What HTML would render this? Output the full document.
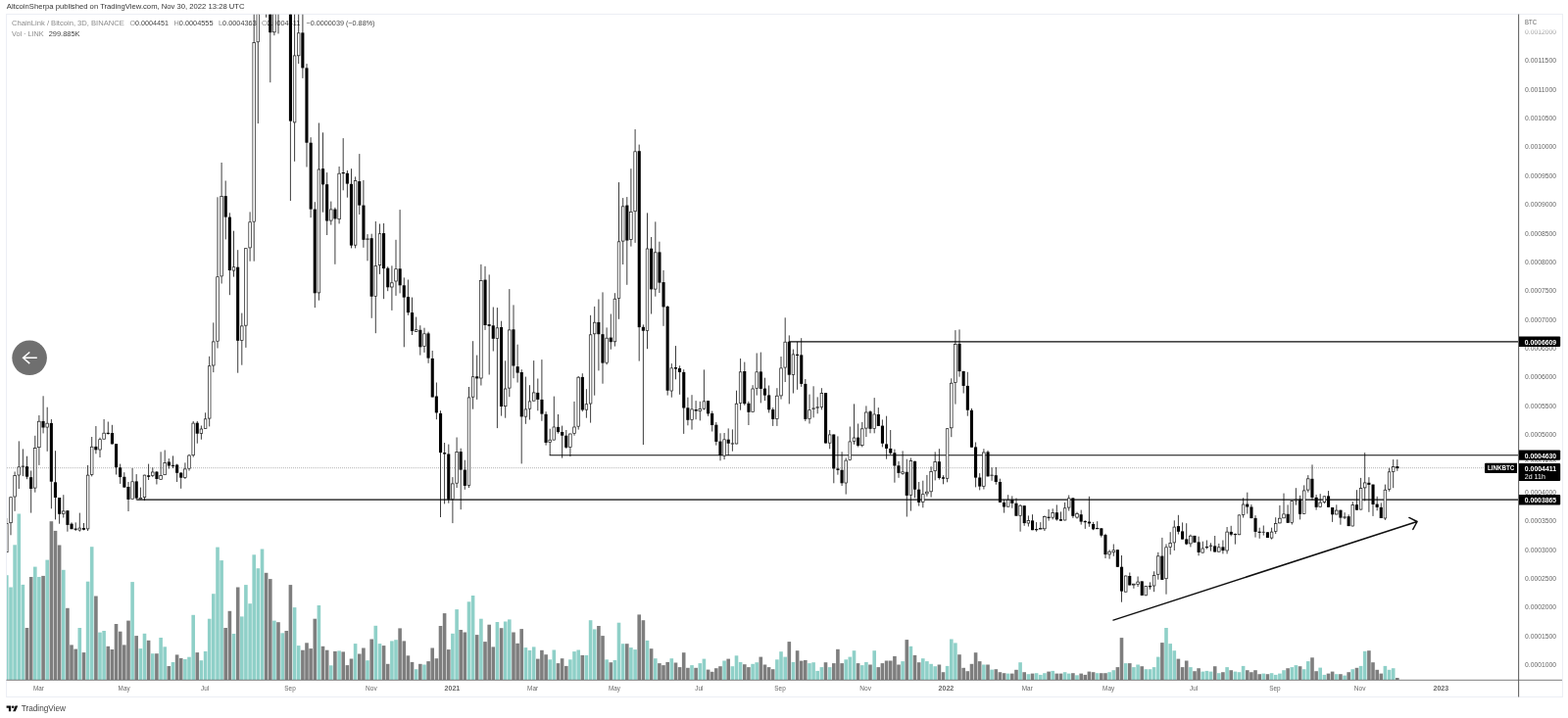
<!DOCTYPE html>
<html><head><meta charset="utf-8"><title>LINKBTC chart</title>
<style>
html,body{margin:0;padding:0;background:#fff;}
body{width:1600px;height:733px;position:relative;overflow:hidden;font-family:"Liberation Sans",sans-serif;}
#frame{position:absolute;left:6px;top:14px;width:1587px;height:696px;border:1px solid #eceef4;box-sizing:content-box;}
svg{position:absolute;left:0;top:0;}
.ax{font-size:7px;fill:#666;font-family:"Liberation Sans",sans-serif;}
.lb{font-size:7.1px;fill:#fff;font-weight:bold;font-family:"Liberation Sans",sans-serif;}
.mo{font-size:7px;fill:#666;font-family:"Liberation Sans",sans-serif;text-anchor:middle;}
</style></head><body>
<div id="frame"></div>
<svg width="1600" height="733" viewBox="0 0 1600 733">
<defs><clipPath id="cp"><rect x="7" y="14.8" width="1542.5" height="680"/></clipPath></defs>
<g font-family="'Liberation Sans', sans-serif"><g font-size="7.5" fill="#8c8c8c">
<text x="12" y="26.4" textLength="114.8" lengthAdjust="spacingAndGlyphs">ChainLink / Bitcoin, 3D, BINANCE</text>
<text x="132.5" y="26.4" textLength="39.5" lengthAdjust="spacingAndGlyphs">O<tspan fill="#444">0.0004451</tspan></text>
<text x="177.5" y="26.4" textLength="40" lengthAdjust="spacingAndGlyphs">H<tspan fill="#444">0.0004555</tspan></text>
<text x="223" y="26.4" textLength="38.8" lengthAdjust="spacingAndGlyphs">L<tspan fill="#444">0.0004363</tspan></text>
<text x="267" y="26.4" textLength="39.3" lengthAdjust="spacingAndGlyphs">C<tspan fill="#444">0.0004411</tspan></text>
<text x="312.5" y="26.4" fill="#444" textLength="70" lengthAdjust="spacingAndGlyphs">−0.0000039 (−0.88%)</text>
<text x="12" y="37.4" textLength="32.7" lengthAdjust="spacingAndGlyphs">Vol · LINK</text>
<text x="49.7" y="37.4" fill="#444" textLength="31.8" lengthAdjust="spacingAndGlyphs">299.885K</text>
</g></g>
<g clip-path="url(#cp)">
<g><rect x="5" y="587.2" width="3.6" height="106.8" fill="#8fd0c8"/><rect x="9.2" y="599.5" width="3.6" height="94.5" fill="#8fd0c8"/><rect x="13.3" y="556.3" width="3.6" height="137.7" fill="#8fd0c8"/><rect x="17.5" y="524.5" width="3.6" height="169.5" fill="#8fd0c8"/><rect x="21.6" y="596.9" width="3.6" height="97.1" fill="#8fd0c8"/><rect x="25.7" y="641" width="3.6" height="53" fill="#7e7e7e"/><rect x="29.9" y="589" width="3.6" height="105" fill="#7e7e7e"/><rect x="34" y="578.6" width="3.6" height="115.4" fill="#8fd0c8"/><rect x="38.1" y="589" width="3.6" height="105" fill="#8fd0c8"/><rect x="42.3" y="587.9" width="3.6" height="106.1" fill="#7e7e7e"/><rect x="46.4" y="571.6" width="3.6" height="122.4" fill="#8fd0c8"/><rect x="50.6" y="532.2" width="3.6" height="161.8" fill="#7e7e7e"/><rect x="54.7" y="541.9" width="3.6" height="152.1" fill="#7e7e7e"/><rect x="58.8" y="556.5" width="3.6" height="137.5" fill="#7e7e7e"/><rect x="63" y="581.8" width="3.6" height="112.2" fill="#8fd0c8"/><rect x="67.1" y="620.8" width="3.6" height="73.2" fill="#7e7e7e"/><rect x="71.2" y="658.4" width="3.6" height="35.6" fill="#7e7e7e"/><rect x="75.4" y="662.6" width="3.6" height="31.4" fill="#7e7e7e"/><rect x="79.5" y="641" width="3.6" height="53" fill="#8fd0c8"/><rect x="83.7" y="666.1" width="3.6" height="27.9" fill="#7e7e7e"/><rect x="87.8" y="593.7" width="3.6" height="100.3" fill="#8fd0c8"/><rect x="91.9" y="558.2" width="3.6" height="135.8" fill="#8fd0c8"/><rect x="96.1" y="608.5" width="3.6" height="85.5" fill="#7e7e7e"/><rect x="100.2" y="645.6" width="3.6" height="48.4" fill="#8fd0c8"/><rect x="104.3" y="644" width="3.6" height="50" fill="#8fd0c8"/><rect x="108.5" y="659.8" width="3.6" height="34.2" fill="#7e7e7e"/><rect x="112.6" y="663" width="3.6" height="31" fill="#7e7e7e"/><rect x="116.7" y="637" width="3.6" height="57" fill="#7e7e7e"/><rect x="120.9" y="644.7" width="3.6" height="49.3" fill="#7e7e7e"/><rect x="125" y="658.4" width="3.6" height="35.6" fill="#7e7e7e"/><rect x="129.2" y="633.6" width="3.6" height="60.4" fill="#7e7e7e"/><rect x="133.3" y="594.1" width="3.6" height="99.9" fill="#8fd0c8"/><rect x="137.4" y="649.1" width="3.6" height="44.9" fill="#7e7e7e"/><rect x="141.6" y="662.1" width="3.6" height="31.9" fill="#8fd0c8"/><rect x="145.7" y="646.8" width="3.6" height="47.2" fill="#8fd0c8"/><rect x="149.8" y="653.8" width="3.6" height="40.2" fill="#7e7e7e"/><rect x="154" y="667.2" width="3.6" height="26.8" fill="#8fd0c8"/><rect x="158.1" y="667.2" width="3.6" height="26.8" fill="#7e7e7e"/><rect x="162.3" y="651" width="3.6" height="43" fill="#8fd0c8"/><rect x="166.4" y="660.3" width="3.6" height="33.7" fill="#8fd0c8"/><rect x="170.5" y="680" width="3.6" height="14" fill="#7e7e7e"/><rect x="174.7" y="676" width="3.6" height="18" fill="#8fd0c8"/><rect x="178.8" y="668.4" width="3.6" height="25.6" fill="#7e7e7e"/><rect x="182.9" y="671.9" width="3.6" height="22.1" fill="#7e7e7e"/><rect x="187.1" y="673" width="3.6" height="21" fill="#8fd0c8"/><rect x="191.2" y="670.7" width="3.6" height="23.3" fill="#8fd0c8"/><rect x="195.4" y="627.8" width="3.6" height="66.2" fill="#8fd0c8"/><rect x="199.5" y="666.1" width="3.6" height="27.9" fill="#7e7e7e"/><rect x="203.6" y="674.2" width="3.6" height="19.8" fill="#8fd0c8"/><rect x="207.8" y="664.9" width="3.6" height="29.1" fill="#8fd0c8"/><rect x="211.9" y="631.7" width="3.6" height="62.3" fill="#8fd0c8"/><rect x="216" y="606.2" width="3.6" height="87.8" fill="#8fd0c8"/><rect x="220.2" y="558.6" width="3.6" height="135.4" fill="#8fd0c8"/><rect x="224.3" y="572.1" width="3.6" height="121.9" fill="#8fd0c8"/><rect x="228.4" y="641" width="3.6" height="53" fill="#7e7e7e"/><rect x="232.6" y="623.8" width="3.6" height="70.2" fill="#7e7e7e"/><rect x="236.7" y="647" width="3.6" height="47" fill="#8fd0c8"/><rect x="240.9" y="599.5" width="3.6" height="94.5" fill="#7e7e7e"/><rect x="245" y="629.4" width="3.6" height="64.6" fill="#8fd0c8"/><rect x="249.1" y="597.1" width="3.6" height="96.9" fill="#8fd0c8"/><rect x="253.3" y="616.2" width="3.6" height="77.8" fill="#8fd0c8"/><rect x="257.4" y="566.3" width="3.6" height="127.7" fill="#8fd0c8"/><rect x="261.5" y="580.2" width="3.6" height="113.8" fill="#8fd0c8"/><rect x="265.7" y="560.5" width="3.6" height="133.5" fill="#8fd0c8"/><rect x="269.8" y="584.8" width="3.6" height="109.2" fill="#7e7e7e"/><rect x="274" y="591.1" width="3.6" height="102.9" fill="#7e7e7e"/><rect x="278.1" y="633.6" width="3.6" height="60.4" fill="#8fd0c8"/><rect x="282.2" y="635.2" width="3.6" height="58.8" fill="#7e7e7e"/><rect x="286.4" y="646.3" width="3.6" height="47.7" fill="#8fd0c8"/><rect x="290.5" y="644" width="3.6" height="50" fill="#7e7e7e"/><rect x="294.6" y="597.1" width="3.6" height="96.9" fill="#7e7e7e"/><rect x="298.8" y="620.1" width="3.6" height="73.9" fill="#8fd0c8"/><rect x="302.9" y="659.1" width="3.6" height="34.9" fill="#8fd0c8"/><rect x="307.1" y="663.7" width="3.6" height="30.3" fill="#7e7e7e"/><rect x="311.2" y="656.3" width="3.6" height="37.7" fill="#7e7e7e"/><rect x="315.3" y="662.1" width="3.6" height="31.9" fill="#7e7e7e"/><rect x="319.5" y="631.7" width="3.6" height="62.3" fill="#7e7e7e"/><rect x="323.6" y="618" width="3.6" height="76" fill="#8fd0c8"/><rect x="327.7" y="659.8" width="3.6" height="34.2" fill="#7e7e7e"/><rect x="331.9" y="663.7" width="3.6" height="30.3" fill="#7e7e7e"/><rect x="336" y="679.3" width="3.6" height="14.7" fill="#8fd0c8"/><rect x="340.1" y="664.9" width="3.6" height="29.1" fill="#7e7e7e"/><rect x="344.3" y="664.4" width="3.6" height="29.6" fill="#8fd0c8"/><rect x="348.4" y="665.4" width="3.6" height="28.6" fill="#7e7e7e"/><rect x="352.6" y="679.1" width="3.6" height="14.9" fill="#7e7e7e"/><rect x="356.7" y="672.5" width="3.6" height="21.5" fill="#7e7e7e"/><rect x="360.8" y="657.1" width="3.6" height="36.9" fill="#8fd0c8"/><rect x="365" y="667.5" width="3.6" height="26.5" fill="#7e7e7e"/><rect x="369.1" y="661.5" width="3.6" height="32.5" fill="#7e7e7e"/><rect x="373.2" y="674.2" width="3.6" height="19.8" fill="#8fd0c8"/><rect x="377.4" y="652.5" width="3.6" height="41.5" fill="#7e7e7e"/><rect x="381.5" y="638.8" width="3.6" height="55.2" fill="#8fd0c8"/><rect x="385.7" y="657.1" width="3.6" height="36.9" fill="#8fd0c8"/><rect x="389.8" y="659.1" width="3.6" height="34.9" fill="#7e7e7e"/><rect x="393.9" y="677.8" width="3.6" height="16.2" fill="#7e7e7e"/><rect x="398.1" y="654.4" width="3.6" height="39.6" fill="#8fd0c8"/><rect x="402.2" y="653.2" width="3.6" height="40.8" fill="#8fd0c8"/><rect x="406.3" y="641.4" width="3.6" height="52.6" fill="#7e7e7e"/><rect x="410.5" y="654.4" width="3.6" height="39.6" fill="#7e7e7e"/><rect x="414.6" y="669.3" width="3.6" height="24.7" fill="#7e7e7e"/><rect x="418.7" y="675.9" width="3.6" height="18.1" fill="#7e7e7e"/><rect x="422.9" y="683.2" width="3.6" height="10.8" fill="#8fd0c8"/><rect x="427" y="677.8" width="3.6" height="16.2" fill="#7e7e7e"/><rect x="431.2" y="678.5" width="3.6" height="15.5" fill="#8fd0c8"/><rect x="435.3" y="675.1" width="3.6" height="18.9" fill="#7e7e7e"/><rect x="439.4" y="661.5" width="3.6" height="32.5" fill="#7e7e7e"/><rect x="443.6" y="672.2" width="3.6" height="21.8" fill="#7e7e7e"/><rect x="447.7" y="639" width="3.6" height="55" fill="#7e7e7e"/><rect x="451.8" y="626.1" width="3.6" height="67.9" fill="#7e7e7e"/><rect x="456" y="663.1" width="3.6" height="30.9" fill="#7e7e7e"/><rect x="460.1" y="646.8" width="3.6" height="47.2" fill="#8fd0c8"/><rect x="464.3" y="622.1" width="3.6" height="71.9" fill="#8fd0c8"/><rect x="468.4" y="643" width="3.6" height="51" fill="#7e7e7e"/><rect x="472.5" y="645.5" width="3.6" height="48.5" fill="#7e7e7e"/><rect x="476.7" y="614.3" width="3.6" height="79.7" fill="#8fd0c8"/><rect x="480.8" y="608" width="3.6" height="86" fill="#8fd0c8"/><rect x="484.9" y="648.1" width="3.6" height="45.9" fill="#7e7e7e"/><rect x="489.1" y="631.7" width="3.6" height="62.3" fill="#8fd0c8"/><rect x="493.2" y="655.1" width="3.6" height="38.9" fill="#7e7e7e"/><rect x="497.4" y="637.7" width="3.6" height="56.3" fill="#7e7e7e"/><rect x="501.5" y="660.4" width="3.6" height="33.6" fill="#7e7e7e"/><rect x="505.6" y="635" width="3.6" height="59" fill="#8fd0c8"/><rect x="509.8" y="641.2" width="3.6" height="52.8" fill="#7e7e7e"/><rect x="513.9" y="634.5" width="3.6" height="59.5" fill="#8fd0c8"/><rect x="518" y="632.4" width="3.6" height="61.6" fill="#8fd0c8"/><rect x="522.2" y="645.5" width="3.6" height="48.5" fill="#7e7e7e"/><rect x="526.3" y="656.8" width="3.6" height="37.2" fill="#7e7e7e"/><rect x="530.4" y="642.1" width="3.6" height="51.9" fill="#7e7e7e"/><rect x="534.6" y="661.1" width="3.6" height="32.9" fill="#8fd0c8"/><rect x="538.7" y="663.9" width="3.6" height="30.1" fill="#8fd0c8"/><rect x="542.9" y="660.4" width="3.6" height="33.6" fill="#8fd0c8"/><rect x="547" y="672.6" width="3.6" height="21.4" fill="#7e7e7e"/><rect x="551.1" y="663.8" width="3.6" height="30.2" fill="#7e7e7e"/><rect x="555.3" y="668.2" width="3.6" height="25.8" fill="#7e7e7e"/><rect x="559.4" y="673.3" width="3.6" height="20.7" fill="#8fd0c8"/><rect x="563.5" y="663.5" width="3.6" height="30.5" fill="#8fd0c8"/><rect x="567.7" y="677.1" width="3.6" height="16.9" fill="#7e7e7e"/><rect x="571.8" y="672.2" width="3.6" height="21.8" fill="#7e7e7e"/><rect x="576" y="679.9" width="3.6" height="14.1" fill="#7e7e7e"/><rect x="580.1" y="673.3" width="3.6" height="20.7" fill="#8fd0c8"/><rect x="584.2" y="665.1" width="3.6" height="28.9" fill="#8fd0c8"/><rect x="588.4" y="663.5" width="3.6" height="30.5" fill="#8fd0c8"/><rect x="592.5" y="668.9" width="3.6" height="25.1" fill="#7e7e7e"/><rect x="596.6" y="668.9" width="3.6" height="25.1" fill="#8fd0c8"/><rect x="600.8" y="633.2" width="3.6" height="60.8" fill="#8fd0c8"/><rect x="604.9" y="642.4" width="3.6" height="51.6" fill="#8fd0c8"/><rect x="609.1" y="639" width="3.6" height="55" fill="#7e7e7e"/><rect x="613.2" y="649.1" width="3.6" height="44.9" fill="#7e7e7e"/><rect x="617.3" y="673.3" width="3.6" height="20.7" fill="#8fd0c8"/><rect x="621.5" y="676.2" width="3.6" height="17.8" fill="#7e7e7e"/><rect x="625.6" y="673.9" width="3.6" height="20.1" fill="#8fd0c8"/><rect x="629.7" y="635.7" width="3.6" height="58.3" fill="#8fd0c8"/><rect x="633.9" y="657.2" width="3.6" height="36.8" fill="#8fd0c8"/><rect x="638" y="657.2" width="3.6" height="36.8" fill="#7e7e7e"/><rect x="642.1" y="661.1" width="3.6" height="32.9" fill="#8fd0c8"/><rect x="646.3" y="663.1" width="3.6" height="30.9" fill="#8fd0c8"/><rect x="650.4" y="627.4" width="3.6" height="66.6" fill="#7e7e7e"/><rect x="654.6" y="633.2" width="3.6" height="60.8" fill="#7e7e7e"/><rect x="658.7" y="653.9" width="3.6" height="40.1" fill="#8fd0c8"/><rect x="662.8" y="662.2" width="3.6" height="31.8" fill="#7e7e7e"/><rect x="667" y="672.2" width="3.6" height="21.8" fill="#8fd0c8"/><rect x="671.1" y="677.1" width="3.6" height="16.9" fill="#7e7e7e"/><rect x="675.2" y="679.1" width="3.6" height="14.9" fill="#7e7e7e"/><rect x="679.4" y="675.9" width="3.6" height="18.1" fill="#7e7e7e"/><rect x="683.5" y="672.2" width="3.6" height="21.8" fill="#8fd0c8"/><rect x="687.7" y="676.5" width="3.6" height="17.5" fill="#7e7e7e"/><rect x="691.8" y="681.1" width="3.6" height="12.9" fill="#7e7e7e"/><rect x="695.9" y="666.2" width="3.6" height="27.8" fill="#7e7e7e"/><rect x="700.1" y="681.8" width="3.6" height="12.2" fill="#7e7e7e"/><rect x="704.2" y="679.1" width="3.6" height="14.9" fill="#8fd0c8"/><rect x="708.3" y="681.8" width="3.6" height="12.2" fill="#7e7e7e"/><rect x="712.5" y="677.1" width="3.6" height="16.9" fill="#8fd0c8"/><rect x="716.6" y="672.6" width="3.6" height="21.4" fill="#8fd0c8"/><rect x="720.8" y="683.6" width="3.6" height="10.4" fill="#7e7e7e"/><rect x="724.9" y="685.8" width="3.6" height="8.2" fill="#7e7e7e"/><rect x="729" y="682.2" width="3.6" height="11.8" fill="#7e7e7e"/><rect x="733.2" y="680.2" width="3.6" height="13.8" fill="#7e7e7e"/><rect x="737.3" y="674.5" width="3.6" height="19.5" fill="#8fd0c8"/><rect x="741.4" y="672.6" width="3.6" height="21.4" fill="#7e7e7e"/><rect x="745.6" y="680.2" width="3.6" height="13.8" fill="#8fd0c8"/><rect x="749.7" y="669.3" width="3.6" height="24.7" fill="#8fd0c8"/><rect x="753.8" y="675.9" width="3.6" height="18.1" fill="#8fd0c8"/><rect x="758" y="678.2" width="3.6" height="15.8" fill="#7e7e7e"/><rect x="762.1" y="681.1" width="3.6" height="12.9" fill="#7e7e7e"/><rect x="766.3" y="677.8" width="3.6" height="16.2" fill="#8fd0c8"/><rect x="770.4" y="676.2" width="3.6" height="17.8" fill="#8fd0c8"/><rect x="774.5" y="670.6" width="3.6" height="23.4" fill="#7e7e7e"/><rect x="778.7" y="678.5" width="3.6" height="15.5" fill="#7e7e7e"/><rect x="782.8" y="681.1" width="3.6" height="12.9" fill="#7e7e7e"/><rect x="786.9" y="683.2" width="3.6" height="10.8" fill="#7e7e7e"/><rect x="791.1" y="673.3" width="3.6" height="20.7" fill="#8fd0c8"/><rect x="795.2" y="665.2" width="3.6" height="28.8" fill="#8fd0c8"/><rect x="799.4" y="670.6" width="3.6" height="23.4" fill="#8fd0c8"/><rect x="803.5" y="655.1" width="3.6" height="38.9" fill="#7e7e7e"/><rect x="807.6" y="675.9" width="3.6" height="18.1" fill="#8fd0c8"/><rect x="811.8" y="664.2" width="3.6" height="29.8" fill="#7e7e7e"/><rect x="815.9" y="674.6" width="3.6" height="19.4" fill="#7e7e7e"/><rect x="820" y="673.9" width="3.6" height="20.1" fill="#7e7e7e"/><rect x="824.2" y="677.1" width="3.6" height="16.9" fill="#8fd0c8"/><rect x="828.3" y="676.2" width="3.6" height="17.8" fill="#8fd0c8"/><rect x="832.4" y="684.9" width="3.6" height="9.1" fill="#8fd0c8"/><rect x="836.6" y="681.1" width="3.6" height="12.9" fill="#8fd0c8"/><rect x="840.7" y="676.2" width="3.6" height="17.8" fill="#7e7e7e"/><rect x="844.9" y="681.1" width="3.6" height="12.9" fill="#8fd0c8"/><rect x="849" y="677.1" width="3.6" height="16.9" fill="#7e7e7e"/><rect x="853.1" y="662.8" width="3.6" height="31.2" fill="#7e7e7e"/><rect x="857.3" y="677.1" width="3.6" height="16.9" fill="#7e7e7e"/><rect x="861.4" y="673.3" width="3.6" height="20.7" fill="#8fd0c8"/><rect x="865.5" y="670.6" width="3.6" height="23.4" fill="#8fd0c8"/><rect x="869.7" y="664.2" width="3.6" height="29.8" fill="#8fd0c8"/><rect x="873.8" y="677.1" width="3.6" height="16.9" fill="#7e7e7e"/><rect x="878" y="679.1" width="3.6" height="14.9" fill="#8fd0c8"/><rect x="882.1" y="675.9" width="3.6" height="18.1" fill="#8fd0c8"/><rect x="886.2" y="678.5" width="3.6" height="15.5" fill="#7e7e7e"/><rect x="890.4" y="664.2" width="3.6" height="29.8" fill="#8fd0c8"/><rect x="894.5" y="681.1" width="3.6" height="12.9" fill="#7e7e7e"/><rect x="898.6" y="677.1" width="3.6" height="16.9" fill="#7e7e7e"/><rect x="902.8" y="674.5" width="3.6" height="19.5" fill="#7e7e7e"/><rect x="906.9" y="674.5" width="3.6" height="19.5" fill="#7e7e7e"/><rect x="911.1" y="669.9" width="3.6" height="24.1" fill="#7e7e7e"/><rect x="915.2" y="678.5" width="3.6" height="15.5" fill="#7e7e7e"/><rect x="919.3" y="675.1" width="3.6" height="18.9" fill="#8fd0c8"/><rect x="923.5" y="653.1" width="3.6" height="40.9" fill="#7e7e7e"/><rect x="927.6" y="659.8" width="3.6" height="34.2" fill="#8fd0c8"/><rect x="931.7" y="668.9" width="3.6" height="25.1" fill="#7e7e7e"/><rect x="935.9" y="676.2" width="3.6" height="17.8" fill="#7e7e7e"/><rect x="940" y="672.2" width="3.6" height="21.8" fill="#8fd0c8"/><rect x="944.1" y="675.1" width="3.6" height="18.9" fill="#8fd0c8"/><rect x="948.3" y="677.8" width="3.6" height="16.2" fill="#8fd0c8"/><rect x="952.4" y="680.2" width="3.6" height="13.8" fill="#8fd0c8"/><rect x="956.6" y="678.5" width="3.6" height="15.5" fill="#7e7e7e"/><rect x="960.7" y="686.2" width="3.6" height="7.8" fill="#7e7e7e"/><rect x="964.8" y="679.9" width="3.6" height="14.1" fill="#8fd0c8"/><rect x="969" y="652.5" width="3.6" height="41.5" fill="#8fd0c8"/><rect x="973.1" y="656.4" width="3.6" height="37.6" fill="#8fd0c8"/><rect x="977.2" y="668.2" width="3.6" height="25.8" fill="#7e7e7e"/><rect x="981.4" y="681.8" width="3.6" height="12.2" fill="#7e7e7e"/><rect x="985.5" y="685.2" width="3.6" height="8.8" fill="#7e7e7e"/><rect x="989.7" y="677.8" width="3.6" height="16.2" fill="#7e7e7e"/><rect x="993.8" y="666.2" width="3.6" height="27.8" fill="#7e7e7e"/><rect x="997.9" y="675.1" width="3.6" height="18.9" fill="#7e7e7e"/><rect x="1002.1" y="678.5" width="3.6" height="15.5" fill="#8fd0c8"/><rect x="1006.2" y="678.5" width="3.6" height="15.5" fill="#7e7e7e"/><rect x="1010.3" y="683.6" width="3.6" height="10.4" fill="#8fd0c8"/><rect x="1014.5" y="683.2" width="3.6" height="10.8" fill="#7e7e7e"/><rect x="1018.6" y="686.2" width="3.6" height="7.8" fill="#7e7e7e"/><rect x="1022.8" y="687.2" width="3.6" height="6.8" fill="#7e7e7e"/><rect x="1026.9" y="687.6" width="3.6" height="6.4" fill="#8fd0c8"/><rect x="1031" y="687.6" width="3.6" height="6.4" fill="#7e7e7e"/><rect x="1035.2" y="683.8" width="3.6" height="10.2" fill="#7e7e7e"/><rect x="1039.3" y="676.2" width="3.6" height="17.8" fill="#8fd0c8"/><rect x="1043.4" y="686.2" width="3.6" height="7.8" fill="#7e7e7e"/><rect x="1047.6" y="688.2" width="3.6" height="5.8" fill="#8fd0c8"/><rect x="1051.7" y="687.6" width="3.6" height="6.4" fill="#7e7e7e"/><rect x="1055.8" y="687.2" width="3.6" height="6.8" fill="#8fd0c8"/><rect x="1060" y="688.9" width="3.6" height="5.1" fill="#8fd0c8"/><rect x="1064.1" y="687.2" width="3.6" height="6.8" fill="#8fd0c8"/><rect x="1068.3" y="685.6" width="3.6" height="8.4" fill="#7e7e7e"/><rect x="1072.4" y="684.9" width="3.6" height="9.1" fill="#8fd0c8"/><rect x="1076.5" y="687.6" width="3.6" height="6.4" fill="#7e7e7e"/><rect x="1080.7" y="687.6" width="3.6" height="6.4" fill="#7e7e7e"/><rect x="1084.8" y="686.2" width="3.6" height="7.8" fill="#8fd0c8"/><rect x="1088.9" y="687.6" width="3.6" height="6.4" fill="#8fd0c8"/><rect x="1093.1" y="687.2" width="3.6" height="6.8" fill="#7e7e7e"/><rect x="1097.2" y="689.3" width="3.6" height="4.7" fill="#8fd0c8"/><rect x="1101.4" y="687.6" width="3.6" height="6.4" fill="#7e7e7e"/><rect x="1105.5" y="688.9" width="3.6" height="5.1" fill="#7e7e7e"/><rect x="1109.6" y="685.6" width="3.6" height="8.4" fill="#7e7e7e"/><rect x="1113.8" y="686.2" width="3.6" height="7.8" fill="#7e7e7e"/><rect x="1117.9" y="687.2" width="3.6" height="6.8" fill="#8fd0c8"/><rect x="1122" y="687.2" width="3.6" height="6.8" fill="#7e7e7e"/><rect x="1126.2" y="687.2" width="3.6" height="6.8" fill="#7e7e7e"/><rect x="1130.3" y="686.2" width="3.6" height="7.8" fill="#8fd0c8"/><rect x="1134.5" y="684.2" width="3.6" height="9.8" fill="#8fd0c8"/><rect x="1138.6" y="681.1" width="3.6" height="12.9" fill="#7e7e7e"/><rect x="1142.7" y="651.1" width="3.6" height="42.9" fill="#7e7e7e"/><rect x="1146.9" y="677.1" width="3.6" height="16.9" fill="#8fd0c8"/><rect x="1151" y="677.1" width="3.6" height="16.9" fill="#7e7e7e"/><rect x="1155.1" y="681.1" width="3.6" height="12.9" fill="#8fd0c8"/><rect x="1159.3" y="678.5" width="3.6" height="15.5" fill="#8fd0c8"/><rect x="1163.4" y="680.2" width="3.6" height="13.8" fill="#7e7e7e"/><rect x="1167.5" y="683.2" width="3.6" height="10.8" fill="#8fd0c8"/><rect x="1171.7" y="683.2" width="3.6" height="10.8" fill="#8fd0c8"/><rect x="1175.8" y="681.1" width="3.6" height="12.9" fill="#8fd0c8"/><rect x="1180" y="670.6" width="3.6" height="23.4" fill="#8fd0c8"/><rect x="1184.1" y="656.1" width="3.6" height="37.9" fill="#7e7e7e"/><rect x="1188.2" y="641" width="3.6" height="53" fill="#8fd0c8"/><rect x="1192.4" y="657.1" width="3.6" height="36.9" fill="#8fd0c8"/><rect x="1196.5" y="664.2" width="3.6" height="29.8" fill="#8fd0c8"/><rect x="1200.6" y="672.6" width="3.6" height="21.4" fill="#7e7e7e"/><rect x="1204.8" y="681.1" width="3.6" height="12.9" fill="#7e7e7e"/><rect x="1208.9" y="674.5" width="3.6" height="19.5" fill="#7e7e7e"/><rect x="1213.1" y="681.1" width="3.6" height="12.9" fill="#8fd0c8"/><rect x="1217.2" y="685.2" width="3.6" height="8.8" fill="#7e7e7e"/><rect x="1221.3" y="682.2" width="3.6" height="11.8" fill="#7e7e7e"/><rect x="1225.5" y="685.6" width="3.6" height="8.4" fill="#8fd0c8"/><rect x="1229.6" y="684.9" width="3.6" height="9.1" fill="#8fd0c8"/><rect x="1233.7" y="685.6" width="3.6" height="8.4" fill="#8fd0c8"/><rect x="1237.9" y="680.2" width="3.6" height="13.8" fill="#7e7e7e"/><rect x="1242" y="687.2" width="3.6" height="6.8" fill="#8fd0c8"/><rect x="1246.1" y="686.2" width="3.6" height="7.8" fill="#7e7e7e"/><rect x="1250.3" y="681.1" width="3.6" height="12.9" fill="#8fd0c8"/><rect x="1254.4" y="684.2" width="3.6" height="9.8" fill="#7e7e7e"/><rect x="1258.6" y="685.6" width="3.6" height="8.4" fill="#8fd0c8"/><rect x="1262.7" y="686.2" width="3.6" height="7.8" fill="#8fd0c8"/><rect x="1266.8" y="679.9" width="3.6" height="14.1" fill="#8fd0c8"/><rect x="1271" y="684.2" width="3.6" height="9.8" fill="#7e7e7e"/><rect x="1275.1" y="686.2" width="3.6" height="7.8" fill="#7e7e7e"/><rect x="1279.2" y="684.2" width="3.6" height="9.8" fill="#7e7e7e"/><rect x="1283.4" y="688.2" width="3.6" height="5.8" fill="#7e7e7e"/><rect x="1287.5" y="687.6" width="3.6" height="6.4" fill="#8fd0c8"/><rect x="1291.7" y="688.2" width="3.6" height="5.8" fill="#7e7e7e"/><rect x="1295.8" y="687.2" width="3.6" height="6.8" fill="#8fd0c8"/><rect x="1299.9" y="688.9" width="3.6" height="5.1" fill="#8fd0c8"/><rect x="1304.1" y="687.6" width="3.6" height="6.4" fill="#8fd0c8"/><rect x="1308.2" y="684.2" width="3.6" height="9.8" fill="#8fd0c8"/><rect x="1312.3" y="682.2" width="3.6" height="11.8" fill="#7e7e7e"/><rect x="1316.5" y="681.1" width="3.6" height="12.9" fill="#8fd0c8"/><rect x="1320.6" y="679.1" width="3.6" height="14.9" fill="#8fd0c8"/><rect x="1324.8" y="680.2" width="3.6" height="13.8" fill="#7e7e7e"/><rect x="1328.9" y="683.2" width="3.6" height="10.8" fill="#8fd0c8"/><rect x="1333" y="675.1" width="3.6" height="18.9" fill="#8fd0c8"/><rect x="1337.2" y="671.3" width="3.6" height="22.7" fill="#7e7e7e"/><rect x="1341.3" y="685.2" width="3.6" height="8.8" fill="#7e7e7e"/><rect x="1345.4" y="681.6" width="3.6" height="12.4" fill="#8fd0c8"/><rect x="1349.6" y="688.9" width="3.6" height="5.1" fill="#8fd0c8"/><rect x="1353.7" y="687.6" width="3.6" height="6.4" fill="#7e7e7e"/><rect x="1357.8" y="685.6" width="3.6" height="8.4" fill="#7e7e7e"/><rect x="1362" y="688.2" width="3.6" height="5.8" fill="#8fd0c8"/><rect x="1366.1" y="688.2" width="3.6" height="5.8" fill="#7e7e7e"/><rect x="1370.3" y="689.6" width="3.6" height="4.4" fill="#8fd0c8"/><rect x="1374.4" y="686.2" width="3.6" height="7.8" fill="#7e7e7e"/><rect x="1378.5" y="683.2" width="3.6" height="10.8" fill="#8fd0c8"/><rect x="1382.7" y="681.8" width="3.6" height="12.2" fill="#7e7e7e"/><rect x="1386.8" y="679.9" width="3.6" height="14.1" fill="#8fd0c8"/><rect x="1390.9" y="664.8" width="3.6" height="29.2" fill="#8fd0c8"/><rect x="1395.1" y="664.2" width="3.6" height="29.8" fill="#7e7e7e"/><rect x="1399.2" y="676.2" width="3.6" height="17.8" fill="#7e7e7e"/><rect x="1403.4" y="683.8" width="3.6" height="10.2" fill="#7e7e7e"/><rect x="1407.5" y="687.6" width="3.6" height="6.4" fill="#7e7e7e"/><rect x="1411.6" y="679.9" width="3.6" height="14.1" fill="#8fd0c8"/><rect x="1415.8" y="683.8" width="3.6" height="10.2" fill="#8fd0c8"/><rect x="1419.9" y="682.2" width="3.6" height="11.8" fill="#8fd0c8"/><rect x="1424" y="692" width="3.6" height="2" fill="#7e7e7e"/></g>
<path d="M804.8 348.85H1549M560.7 464.7H1549M139.5 510.05H1549" stroke="#0c0c0c" stroke-width="1.15" fill="none"/>
<path d="M7 477.7H1549" stroke="#777" stroke-width="0.7" stroke-dasharray="0.8 1.2" fill="none"/>
<path d="M6.8 529V564M11 507.3V546.3M15.1 481.5V521.8M19.3 450.4V499M23.4 458.4V486.1M27.5 465.7V489.2M31.7 480.5V523.6M35.8 444.8V502.7M39.9 424V474.9M44.1 404.3V442.4M48.2 415.7V460.8M52.4 428V519.3M56.5 460.2V530.4M60.6 508V534.7M64.8 505.2V528.5M68.9 521.2V542.7M73 533.4V540.2M77.2 533.4V542M81.3 523.6V542.7M85.5 534V541.4M89.6 474.9V542M93.7 446V486.4M97.9 435V463.3M102 446.7V467M106.1 428V448.5M110.3 430.5V443.6M114.4 433.8V453.4M118.5 453.1V484.5M122.7 473.6V493.9M126.8 482.2V497.6M131 492V522M135.1 477.9V509.6M139.2 484.1V510.5M143.4 497.6V509.9M147.5 484.7V511.1M151.6 473.6V490M155.8 477.3V487.1M159.9 481V494.5M164.1 461.3V489.6M168.2 459.5V485M172.3 468.1V478.5M176.5 465.4V477.9M180.6 473.6V492M184.7 482.2V498.8M188.9 472.4V489M193 463.8V480.6M197.2 429.9V466.6M201.3 429.9V452.7M205.4 434.5V448.7M209.6 421.3V437.7M213.7 363.8V435.4M217.8 329.4V380.1M222 201.3V355.5M226.1 166V289.5M230.2 184.5V244.4M234.4 217.3V301.2M238.5 235.7V282.6M242.7 255.2V380.7M246.8 319.6V372.7M250.9 253.3V354.9M255.1 216.4V266.7M259.2 0V266.7M263.3 -5V126.1M267.5 -25V5M271.6 -25V17.8M275.8 -20V84.2M279.9 -20V36.2M284 -25V34.4M288.2 -25V5M292.3 -25V5M296.4 -20V205M300.6 0V164.8M304.7 0V65.1M308.9 0V79.9M313 65.1V170.5M317.1 140.2V222.2M321.3 206.2V314.1M325.4 125.5V306.7M329.5 135.3V216.7M333.7 176.1V240M337.8 205.6V229.6M341.9 211.8V269.8M346.1 170V228.4M350.2 141.1V194.3M354.4 174V201.7M358.5 172.2V253.4M362.6 180.4V253.4M366.8 157.1V219M370.9 183.9V252.8M375 239.1V266.3M379.2 238.7V324.8M383.3 226V340.2M387.5 228.5V279.9M391.6 228V305.2M395.7 272.2V297.2M399.9 271.3V316.9M404 244.8V301.9M408.1 214.1V299.4M412.3 283.4V354.3M416.4 285.5V321.8M420.5 303.6V342M424.7 323.6V339M428.8 332.2V362.6M433 334.7V359.9M437.1 338.7V370.8M441.2 358V405.5M445.4 390.5V428.2M449.5 419.2V528M453.6 452V514.4M457.8 453.6V513.7M461.9 487.1V534.1M466.1 446.5V498M470.2 457.7V520.2M474.3 469.7V499.8M478.5 395V498M482.6 348.2V417.7M486.7 362.6V407.9M490.9 269.9V393.5M495 271.8V336.9M499.2 280.4V382.5M503.3 313.5V358.5M507.4 314.1V437.1M511.6 327.7V424.6M515.7 368.3V426.7M519.8 295.1V405.2M524 311.4V386.2M528.1 351.7V390.5M532.2 377.2V473.4M536.4 384.6V432.8M540.5 393.2V428.5M544.7 368.1V409.5M548.8 386.5V419.3M552.9 367.1V429.8M557.1 420.2V454.6M561.2 437.7V464.8M565.3 404.6V449.4M569.5 423V442.6M573.6 434.6V467.6M577.8 439V458M581.9 442.6V466M586 409.9V444.7M590.2 384V438.6M594.3 381.2V420.2M598.4 397.2V426.7M602.6 321.8V431.6M606.7 312.9V403.7M610.9 305.5V378.4M615 298.4V391.7M619.1 334.4V372.3M623.3 320.5V356.7M627.4 299.2V353.6M631.5 186.1V325.8M635.7 202.1V270M639.8 201.1V290.8M643.9 172.2V251.6M648.1 132V247.9M652.2 147.6V368.6M656.4 331.4V454M660.5 217.4V356.2M664.6 242V320.5M668.8 226.4V302.7M672.9 246.7V299M677 275.9V332.8M681.2 312V403.6M685.3 371.1V405.7M689.5 353.1V387.3M693.6 373.3V402.8M697.7 377.2V442.9M701.9 405.7V434.3M706 403.2V438.6M710.1 409.1V428.2M714.3 409.8V429.4M718.4 377.4V418.4M722.6 409.1V424.9M726.7 419.6V440.5M730.8 431V454.6M735 442.3V470.3M739.1 442V469.1M743.2 437.4V465M747.4 438.4V460.7M751.5 398.7V453.3M755.6 366V418.7M759.8 369.6V413.8M763.9 409.8V434M768.1 393.2V420.8M772.2 360.5V403.6M776.3 359.6V411.4M780.5 385.7V409.1M784.6 393.5V421.4M788.7 416.1V434.9M792.9 396.2V434.9M797 364V407.6M801.2 324.3V390M805.3 342.4V412.4M809.4 356.6V401.5M813.6 348.9V397.8M817.7 345.2V394.9M821.8 387V430M826 402.6V432.5M830.1 394.3V426.3M834.2 405.4V422.3M838.4 396.2V418.3M842.5 401.1V452.5M846.7 439V458.3M850.8 443.5V493.3M854.9 445.4V484.7M859.1 461.3V496M863.2 467.5V504.6M867.3 435.5V470.2M871.5 412.4V453.7M875.6 432.5V456.4M879.8 430.9V456.4M883.9 414.4V446M888 419V442.3M892.2 406.1V442.3M896.3 416.1V434.9M900.4 428.4V456.4M904.6 424.7V468.7M908.7 439V464M912.9 458.6V492.7M917 470.9V487.8M921.1 460.4V484.7M925.3 468.7V527.5M929.4 467.5V521.6M933.5 470.8V508.3M937.7 492V516.6M941.8 490.7V518.3M945.9 484.9V506.8M950.1 476.3V507.6M954.2 461.4V490.4M958.4 458.2V489.6M962.5 485.2V494.3M966.6 437.3V492.3M970.8 386.3V446.2M974.9 337.1V412.6M979 336.4V384.7M983.2 378.9V401.5M987.3 379.8V424.7M991.5 416.9V456.7M995.6 451.5V497.4M999.7 483.1V500.4M1003.9 458.2V499.5M1008 459.8V486.4M1012.1 477.3V490.8M1016.3 477V494.7M1020.4 488.7V512.9M1024.6 510.1V523.6M1028.7 505.2V517.5M1032.8 506.4V518.7M1037 508.5V526.7M1041.1 515V542.7M1045.2 516.2V536.8M1049.4 526.4V537.5M1053.5 525.2V541.2M1057.6 533.1V542.7M1061.8 533.1V540.4M1065.9 526.4V542M1070.1 519.9V531.6M1074.2 519.3V530.4M1078.3 515.4V531.6M1082.5 522.4V531.7M1086.6 512.9V531.3M1090.7 505.5V521.5M1094.9 508.4V528.9M1099 522.7V529.5M1103.2 520.6V535.6M1107.3 531.3V539.9M1111.4 506.8V537.8M1115.6 532.9V541.2M1119.7 532.2V540.1M1123.8 539.3V548.5M1128 544.8V570M1132.1 561.4V570.6M1136.3 555.5V567.8M1140.4 561.2V578.8M1144.5 567V614.7M1148.7 587.6V604.5M1152.8 584.5V597.5M1156.9 595.9V600.8M1161.1 588.5V599.1M1165.2 593.4V607.9M1169.3 598.3V608.2M1173.5 594.4V601.8M1177.6 583.3V604.2M1181.8 563.8V591.7M1185.9 548.9V591.9M1190 555.5V606.7M1194.2 543.2V566.3M1198.3 531.3V562M1202.4 525.8V545.5M1206.6 533.4V550.6M1210.7 534.2V556.3M1214.9 545.7V558.4M1219 546.9V553.8M1223.1 547.7V567.3M1227.3 552.7V564.5M1231.4 551.5V560.5M1235.5 554.3V562.6M1239.7 547V563.5M1243.8 554.9V563.5M1247.9 551.5V565.4M1252.1 538V565.4M1256.2 536.8V547.3M1260.4 544.5V555.6M1264.5 525.5V546.1M1268.6 508.3V528.5M1272.8 502.7V524.5M1276.9 515V529.1M1281 526.1V548.6M1285.2 538.7V549.8M1289.3 536.5V546.6M1293.5 543.3V549M1297.6 538.7V550.6M1301.7 528.2V545.1M1305.9 515.9V534.3M1310 503.6V529.1M1314.1 515.4V533.8M1318.3 511V535.5M1322.4 498.2V515.6M1326.6 505.8V530.4M1330.7 495.4V524.8M1334.8 485.1V502.6M1339 474.4V510.5M1343.1 505V520.6M1347.2 504.2V517.9M1351.4 506.4V514.1M1355.5 501.1V517.8M1359.6 518V532.9M1363.8 515.3V525.3M1367.9 520.7V535.7M1372.1 523.2V530M1376.2 525.3V537.1M1380.3 512.1V537.3M1384.5 500.2V520.7M1388.6 487.9V520.4M1392.7 462.1V511.5M1396.9 487.2V522.8M1401 494.6V526.9M1405.2 506.8V521.3M1409.3 513.4V529M1413.4 494.6V530.9M1417.6 477.7V501.7M1421.7 469.1V498.2M1425.8 469.1V480.8" stroke="#000" stroke-width="0.9" fill="none" opacity="0.85"/>
<g><rect x="5.5" y="534.4" width="2.6" height="29.3" fill="#fff" stroke="#1a1a1a" stroke-width="0.7"/><rect x="9.7" y="507.7" width="2.6" height="26" fill="#fff" stroke="#1a1a1a" stroke-width="0.7"/><rect x="13.8" y="485.6" width="2.6" height="21.4" fill="#fff" stroke="#1a1a1a" stroke-width="0.7"/><rect x="18" y="476.8" width="2.6" height="8.2" fill="#fff" stroke="#1a1a1a" stroke-width="0.7"/><rect x="22.1" y="476" width="2.6" height="0.5" fill="#fff" stroke="#1a1a1a" stroke-width="0.7"/><rect x="26" y="476.2" width="3.1" height="10.5" fill="#000"/><rect x="30.1" y="487.2" width="3.1" height="11.8" fill="#000"/><rect x="34.5" y="457.5" width="2.6" height="40.6" fill="#fff" stroke="#1a1a1a" stroke-width="0.7"/><rect x="38.6" y="430.2" width="2.6" height="26.5" fill="#fff" stroke="#1a1a1a" stroke-width="0.7"/><rect x="42.5" y="429.9" width="3.1" height="6.6" fill="#000"/><rect x="46.9" y="432.2" width="2.6" height="3.9" fill="#fff" stroke="#1a1a1a" stroke-width="0.7"/><rect x="50.8" y="431.9" width="3.1" height="59.8" fill="#000"/><rect x="54.9" y="492.3" width="3.1" height="15.7" fill="#000"/><rect x="59.1" y="508" width="3.1" height="16.8" fill="#000"/><rect x="63.5" y="521.9" width="2.6" height="2.6" fill="#fff" stroke="#1a1a1a" stroke-width="0.7"/><rect x="67.4" y="521.2" width="3.1" height="14.7" fill="#000"/><rect x="71.5" y="534.7" width="3.1" height="5.5" fill="#000"/><rect x="75.6" y="539.6" width="3.1" height="1.2" fill="#000"/><rect x="80" y="539.1" width="2.6" height="2" fill="#fff" stroke="#1a1a1a" stroke-width="0.7"/><rect x="83.9" y="539" width="3.1" height="1.8" fill="#000"/><rect x="88.3" y="485.1" width="2.6" height="54.8" fill="#fff" stroke="#1a1a1a" stroke-width="0.7"/><rect x="92.4" y="456.2" width="2.6" height="28.2" fill="#fff" stroke="#1a1a1a" stroke-width="0.7"/><rect x="96.3" y="455.9" width="3.1" height="3.4" fill="#000"/><rect x="100.7" y="448.7" width="2.6" height="10.3" fill="#fff" stroke="#1a1a1a" stroke-width="0.7"/><rect x="104.8" y="442.2" width="2.6" height="6" fill="#fff" stroke="#1a1a1a" stroke-width="0.7"/><rect x="108.7" y="441.8" width="3.1" height="1.2" fill="#000"/><rect x="112.9" y="442" width="3.1" height="11.4" fill="#000"/><rect x="117" y="453.1" width="3.1" height="24" fill="#000"/><rect x="121.1" y="477.3" width="3.1" height="9.8" fill="#000"/><rect x="125.3" y="486.8" width="3.1" height="10.8" fill="#000"/><rect x="129.4" y="497" width="3.1" height="12.9" fill="#000"/><rect x="133.8" y="491.8" width="2.6" height="17.5" fill="#fff" stroke="#1a1a1a" stroke-width="0.7"/><rect x="137.7" y="491.4" width="3.1" height="17.2" fill="#000"/><rect x="142.1" y="508.4" width="2.6" height="1.2" fill="#fff" stroke="#1a1a1a" stroke-width="0.7"/><rect x="146.2" y="485.1" width="2.6" height="22.6" fill="#fff" stroke="#1a1a1a" stroke-width="0.7"/><rect x="150.1" y="485.3" width="3.1" height="1.5" fill="#000"/><rect x="154.5" y="482" width="2.6" height="3.6" fill="#fff" stroke="#1a1a1a" stroke-width="0.7"/><rect x="158.4" y="481.6" width="3.1" height="7.4" fill="#000"/><rect x="162.8" y="485.4" width="2.6" height="3.9" fill="#fff" stroke="#1a1a1a" stroke-width="0.7"/><rect x="166.9" y="472.5" width="2.6" height="12.2" fill="#fff" stroke="#1a1a1a" stroke-width="0.7"/><rect x="170.8" y="471.5" width="3.1" height="4" fill="#000"/><rect x="175.2" y="475.2" width="2.6" height="0.5" fill="#fff" stroke="#1a1a1a" stroke-width="0.7"/><rect x="179.1" y="474.5" width="3.1" height="8.3" fill="#000"/><rect x="183.2" y="482.6" width="3.1" height="5.1" fill="#000"/><rect x="187.6" y="478.9" width="2.6" height="8.5" fill="#fff" stroke="#1a1a1a" stroke-width="0.7"/><rect x="191.7" y="465" width="2.6" height="13.2" fill="#fff" stroke="#1a1a1a" stroke-width="0.7"/><rect x="195.9" y="432.1" width="2.6" height="32.6" fill="#fff" stroke="#1a1a1a" stroke-width="0.7"/><rect x="199.7" y="431.7" width="3.1" height="11" fill="#000"/><rect x="204.1" y="438" width="2.6" height="4.4" fill="#fff" stroke="#1a1a1a" stroke-width="0.7"/><rect x="208.3" y="427.8" width="2.6" height="9.6" fill="#fff" stroke="#1a1a1a" stroke-width="0.7"/><rect x="212.4" y="373.7" width="2.6" height="53.4" fill="#fff" stroke="#1a1a1a" stroke-width="0.7"/><rect x="216.5" y="348.9" width="2.6" height="24.1" fill="#fff" stroke="#1a1a1a" stroke-width="0.7"/><rect x="220.7" y="282.7" width="2.6" height="65.5" fill="#fff" stroke="#1a1a1a" stroke-width="0.7"/><rect x="224.8" y="200.4" width="2.6" height="81.5" fill="#fff" stroke="#1a1a1a" stroke-width="0.7"/><rect x="228.7" y="200.1" width="3.1" height="21.5" fill="#000"/><rect x="232.8" y="221.6" width="3.1" height="54.4" fill="#000"/><rect x="237.2" y="272.7" width="2.6" height="3.4" fill="#fff" stroke="#1a1a1a" stroke-width="0.7"/><rect x="241.1" y="272.7" width="3.1" height="75.1" fill="#000"/><rect x="245.5" y="332.9" width="2.6" height="14.6" fill="#fff" stroke="#1a1a1a" stroke-width="0.7"/><rect x="249.6" y="253.7" width="2.6" height="78.5" fill="#fff" stroke="#1a1a1a" stroke-width="0.7"/><rect x="253.8" y="226.8" width="2.6" height="26.1" fill="#fff" stroke="#1a1a1a" stroke-width="0.7"/><rect x="257.9" y="43.6" width="2.6" height="182.6" fill="#fff" stroke="#1a1a1a" stroke-width="0.7"/><rect x="262" y="0.3" width="2.6" height="42.5" fill="#fff" stroke="#1a1a1a" stroke-width="0.7"/><rect x="266.2" y="-19.6" width="2.6" height="19.3" fill="#fff" stroke="#1a1a1a" stroke-width="0.7"/><rect x="270.1" y="-20" width="3.1" height="20" fill="#000"/><rect x="274.2" y="-10" width="3.1" height="43.2" fill="#000"/><rect x="278.6" y="-9.7" width="2.6" height="42.5" fill="#fff" stroke="#1a1a1a" stroke-width="0.7"/><rect x="282.5" y="-20" width="3.1" height="20" fill="#000"/><rect x="286.9" y="-19.6" width="2.6" height="19.3" fill="#fff" stroke="#1a1a1a" stroke-width="0.7"/><rect x="290.8" y="-20" width="3.1" height="15" fill="#000"/><rect x="294.9" y="-10" width="3.1" height="133.6" fill="#000"/><rect x="299.3" y="56.9" width="2.6" height="68" fill="#fff" stroke="#1a1a1a" stroke-width="0.7"/><rect x="303.4" y="33.8" width="2.6" height="23" fill="#fff" stroke="#1a1a1a" stroke-width="0.7"/><rect x="307.3" y="33.4" width="3.1" height="36" fill="#000"/><rect x="311.4" y="69.4" width="3.1" height="76.3" fill="#000"/><rect x="315.6" y="145.7" width="3.1" height="67.9" fill="#000"/><rect x="319.7" y="213.6" width="3.1" height="85.7" fill="#000"/><rect x="324.1" y="173" width="2.6" height="125.9" fill="#fff" stroke="#1a1a1a" stroke-width="0.7"/><rect x="328" y="172.2" width="3.1" height="16.2" fill="#000"/><rect x="332.1" y="188.2" width="3.1" height="37.3" fill="#000"/><rect x="336.5" y="213.9" width="2.6" height="11.2" fill="#fff" stroke="#1a1a1a" stroke-width="0.7"/><rect x="340.4" y="213.6" width="3.1" height="9.8" fill="#000"/><rect x="344.8" y="177.2" width="2.6" height="46.5" fill="#fff" stroke="#1a1a1a" stroke-width="0.7"/><rect x="348.7" y="176" width="3.1" height="1.2" fill="#000"/><rect x="352.8" y="176.8" width="3.1" height="10.8" fill="#000"/><rect x="356.9" y="187.8" width="3.1" height="62.8" fill="#000"/><rect x="361.3" y="184.4" width="2.6" height="65.8" fill="#fff" stroke="#1a1a1a" stroke-width="0.7"/><rect x="365.2" y="185.1" width="3.1" height="24.5" fill="#000"/><rect x="369.4" y="209.6" width="3.1" height="35.2" fill="#000"/><rect x="373.7" y="243.9" width="2.6" height="0.5" fill="#fff" stroke="#1a1a1a" stroke-width="0.7"/><rect x="377.6" y="243.2" width="3.1" height="59.5" fill="#000"/><rect x="382" y="271.4" width="2.6" height="31" fill="#fff" stroke="#1a1a1a" stroke-width="0.7"/><rect x="386.2" y="238.7" width="2.6" height="32" fill="#fff" stroke="#1a1a1a" stroke-width="0.7"/><rect x="390" y="238.1" width="3.1" height="36" fill="#000"/><rect x="394.2" y="273.7" width="3.1" height="19.6" fill="#000"/><rect x="398.6" y="288.8" width="2.6" height="4.2" fill="#fff" stroke="#1a1a1a" stroke-width="0.7"/><rect x="402.7" y="274.7" width="2.6" height="12.3" fill="#fff" stroke="#1a1a1a" stroke-width="0.7"/><rect x="406.6" y="274.3" width="3.1" height="17" fill="#000"/><rect x="410.7" y="291.3" width="3.1" height="12.3" fill="#000"/><rect x="414.9" y="303.1" width="3.1" height="16" fill="#000"/><rect x="419" y="319.1" width="3.1" height="18.9" fill="#000"/><rect x="423.4" y="336.7" width="2.6" height="1.7" fill="#fff" stroke="#1a1a1a" stroke-width="0.7"/><rect x="427.3" y="336.8" width="3.1" height="17.5" fill="#000"/><rect x="431.7" y="340.8" width="2.6" height="12.6" fill="#fff" stroke="#1a1a1a" stroke-width="0.7"/><rect x="435.5" y="340.4" width="3.1" height="25.2" fill="#000"/><rect x="439.7" y="365.9" width="3.1" height="39.6" fill="#000"/><rect x="443.8" y="404.5" width="3.1" height="16.9" fill="#000"/><rect x="448" y="422" width="3.1" height="40.1" fill="#000"/><rect x="452.1" y="462.1" width="3.1" height="1.4" fill="#000"/><rect x="456.2" y="463.5" width="3.1" height="46.3" fill="#000"/><rect x="460.6" y="493.9" width="2.6" height="15.6" fill="#fff" stroke="#1a1a1a" stroke-width="0.7"/><rect x="464.8" y="461.5" width="2.6" height="31.7" fill="#fff" stroke="#1a1a1a" stroke-width="0.7"/><rect x="468.6" y="461.1" width="3.1" height="18.5" fill="#000"/><rect x="472.8" y="479.6" width="3.1" height="16.3" fill="#000"/><rect x="477.2" y="405.9" width="2.6" height="89.7" fill="#fff" stroke="#1a1a1a" stroke-width="0.7"/><rect x="481.3" y="384.7" width="2.6" height="20.5" fill="#fff" stroke="#1a1a1a" stroke-width="0.7"/><rect x="485.2" y="384.3" width="3.1" height="2.1" fill="#000"/><rect x="489.6" y="286.5" width="2.6" height="99.5" fill="#fff" stroke="#1a1a1a" stroke-width="0.7"/><rect x="493.5" y="285.6" width="3.1" height="46.4" fill="#000"/><rect x="497.6" y="331.1" width="3.1" height="1.7" fill="#000"/><rect x="501.7" y="332.3" width="3.1" height="13.5" fill="#000"/><rect x="506.1" y="334.8" width="2.6" height="10.7" fill="#fff" stroke="#1a1a1a" stroke-width="0.7"/><rect x="510" y="334" width="3.1" height="81" fill="#000"/><rect x="514.4" y="397" width="2.6" height="17.7" fill="#fff" stroke="#1a1a1a" stroke-width="0.7"/><rect x="518.5" y="336.9" width="2.6" height="59.2" fill="#fff" stroke="#1a1a1a" stroke-width="0.7"/><rect x="522.4" y="336.3" width="3.1" height="37.2" fill="#000"/><rect x="526.6" y="374.2" width="3.1" height="6.4" fill="#000"/><rect x="530.7" y="380" width="3.1" height="45.4" fill="#000"/><rect x="535.1" y="417.9" width="2.6" height="7.3" fill="#fff" stroke="#1a1a1a" stroke-width="0.7"/><rect x="539.2" y="409.9" width="2.6" height="7.3" fill="#fff" stroke="#1a1a1a" stroke-width="0.7"/><rect x="543.4" y="400.9" width="2.6" height="8.3" fill="#fff" stroke="#1a1a1a" stroke-width="0.7"/><rect x="547.2" y="400.9" width="3.1" height="7" fill="#000"/><rect x="551.4" y="407.9" width="3.1" height="14.7" fill="#000"/><rect x="555.5" y="422.8" width="3.1" height="29.1" fill="#000"/><rect x="559.9" y="449.2" width="2.6" height="2.4" fill="#fff" stroke="#1a1a1a" stroke-width="0.7"/><rect x="564" y="436" width="2.6" height="13.1" fill="#fff" stroke="#1a1a1a" stroke-width="0.7"/><rect x="567.9" y="435.9" width="3.1" height="5.1" fill="#000"/><rect x="572.1" y="441" width="3.1" height="3.7" fill="#000"/><rect x="576.2" y="444.7" width="3.1" height="12.1" fill="#000"/><rect x="580.6" y="443" width="2.6" height="13.5" fill="#fff" stroke="#1a1a1a" stroke-width="0.7"/><rect x="584.7" y="436" width="2.6" height="6.3" fill="#fff" stroke="#1a1a1a" stroke-width="0.7"/><rect x="588.9" y="385.2" width="2.6" height="50" fill="#fff" stroke="#1a1a1a" stroke-width="0.7"/><rect x="592.8" y="384.9" width="3.1" height="33.6" fill="#000"/><rect x="597.1" y="412.7" width="2.6" height="5.5" fill="#fff" stroke="#1a1a1a" stroke-width="0.7"/><rect x="601.3" y="341.8" width="2.6" height="70.2" fill="#fff" stroke="#1a1a1a" stroke-width="0.7"/><rect x="605.4" y="329.2" width="2.6" height="11.6" fill="#fff" stroke="#1a1a1a" stroke-width="0.7"/><rect x="609.3" y="328.9" width="3.1" height="12.3" fill="#000"/><rect x="613.4" y="341.2" width="3.1" height="29.4" fill="#000"/><rect x="617.8" y="345.2" width="2.6" height="25" fill="#fff" stroke="#1a1a1a" stroke-width="0.7"/><rect x="621.7" y="344.6" width="3.1" height="4.6" fill="#000"/><rect x="626.1" y="305.2" width="2.6" height="43.6" fill="#fff" stroke="#1a1a1a" stroke-width="0.7"/><rect x="630.2" y="246.8" width="2.6" height="57.8" fill="#fff" stroke="#1a1a1a" stroke-width="0.7"/><rect x="634.4" y="210.8" width="2.6" height="35.3" fill="#fff" stroke="#1a1a1a" stroke-width="0.7"/><rect x="638.3" y="209.6" width="3.1" height="35.9" fill="#000"/><rect x="642.6" y="216.3" width="2.6" height="28.1" fill="#fff" stroke="#1a1a1a" stroke-width="0.7"/><rect x="646.8" y="154.8" width="2.6" height="60.9" fill="#fff" stroke="#1a1a1a" stroke-width="0.7"/><rect x="650.7" y="154.2" width="3.1" height="179.9" fill="#000"/><rect x="654.8" y="333.8" width="3.1" height="3.9" fill="#000"/><rect x="659.2" y="254" width="2.6" height="83.6" fill="#fff" stroke="#1a1a1a" stroke-width="0.7"/><rect x="663.1" y="253.7" width="3.1" height="41.7" fill="#000"/><rect x="667.5" y="257.8" width="2.6" height="37.3" fill="#fff" stroke="#1a1a1a" stroke-width="0.7"/><rect x="671.4" y="257.4" width="3.1" height="31.2" fill="#000"/><rect x="675.5" y="288.1" width="3.1" height="25.3" fill="#000"/><rect x="679.6" y="312.9" width="3.1" height="85.8" fill="#000"/><rect x="684" y="375.8" width="2.6" height="23.2" fill="#fff" stroke="#1a1a1a" stroke-width="0.7"/><rect x="687.9" y="375" width="3.1" height="1.6" fill="#000"/><rect x="692" y="376" width="3.1" height="3.9" fill="#000"/><rect x="696.2" y="379.9" width="3.1" height="36.6" fill="#000"/><rect x="700.3" y="416.3" width="3.1" height="12.5" fill="#000"/><rect x="704.7" y="417.9" width="2.6" height="10.4" fill="#fff" stroke="#1a1a1a" stroke-width="0.7"/><rect x="708.6" y="418" width="3.1" height="1.6" fill="#000"/><rect x="713" y="417.5" width="2.6" height="2.2" fill="#fff" stroke="#1a1a1a" stroke-width="0.7"/><rect x="717.1" y="409.8" width="2.6" height="7.4" fill="#fff" stroke="#1a1a1a" stroke-width="0.7"/><rect x="721" y="409.1" width="3.1" height="13.3" fill="#000"/><rect x="725.1" y="422" width="3.1" height="12" fill="#000"/><rect x="729.3" y="433.7" width="3.1" height="17.2" fill="#000"/><rect x="733.4" y="450.6" width="3.1" height="14.4" fill="#000"/><rect x="737.8" y="448.8" width="2.6" height="16.3" fill="#fff" stroke="#1a1a1a" stroke-width="0.7"/><rect x="741.7" y="448.7" width="3.1" height="4" fill="#000"/><rect x="746.1" y="452.8" width="2.6" height="0.3" fill="#fff" stroke="#1a1a1a" stroke-width="0.7"/><rect x="750.2" y="412.2" width="2.6" height="40.8" fill="#fff" stroke="#1a1a1a" stroke-width="0.7"/><rect x="754.3" y="379.8" width="2.6" height="31.7" fill="#fff" stroke="#1a1a1a" stroke-width="0.7"/><rect x="758.2" y="379" width="3.1" height="33.2" fill="#000"/><rect x="762.4" y="411.8" width="3.1" height="9" fill="#000"/><rect x="766.8" y="397" width="2.6" height="23.5" fill="#fff" stroke="#1a1a1a" stroke-width="0.7"/><rect x="770.9" y="379.8" width="2.6" height="16.5" fill="#fff" stroke="#1a1a1a" stroke-width="0.7"/><rect x="774.8" y="379.4" width="3.1" height="17.5" fill="#000"/><rect x="778.9" y="396.6" width="3.1" height="7" fill="#000"/><rect x="783.1" y="403.4" width="3.1" height="14.9" fill="#000"/><rect x="787.2" y="418.1" width="3.1" height="9.8" fill="#000"/><rect x="791.6" y="404.2" width="2.6" height="23.3" fill="#fff" stroke="#1a1a1a" stroke-width="0.7"/><rect x="795.7" y="375.9" width="2.6" height="28" fill="#fff" stroke="#1a1a1a" stroke-width="0.7"/><rect x="799.9" y="349.2" width="2.6" height="25.9" fill="#fff" stroke="#1a1a1a" stroke-width="0.7"/><rect x="803.7" y="348.9" width="3.1" height="33.8" fill="#000"/><rect x="808.1" y="361.9" width="2.6" height="20.5" fill="#fff" stroke="#1a1a1a" stroke-width="0.7"/><rect x="812" y="361.8" width="3.1" height="1.2" fill="#000"/><rect x="816.2" y="362.4" width="3.1" height="29.5" fill="#000"/><rect x="820.3" y="391.9" width="3.1" height="36" fill="#000"/><rect x="824.7" y="418.7" width="2.6" height="8.9" fill="#fff" stroke="#1a1a1a" stroke-width="0.7"/><rect x="828.8" y="416.9" width="2.6" height="0.5" fill="#fff" stroke="#1a1a1a" stroke-width="0.7"/><rect x="832.9" y="415.7" width="2.6" height="0.5" fill="#fff" stroke="#1a1a1a" stroke-width="0.7"/><rect x="837.1" y="401.5" width="2.6" height="14.1" fill="#fff" stroke="#1a1a1a" stroke-width="0.7"/><rect x="841" y="401.1" width="3.1" height="51.4" fill="#000"/><rect x="845.4" y="443.9" width="2.6" height="8.3" fill="#fff" stroke="#1a1a1a" stroke-width="0.7"/><rect x="849.2" y="443.5" width="3.1" height="34.9" fill="#000"/><rect x="853.4" y="478.4" width="3.1" height="1.5" fill="#000"/><rect x="857.5" y="479.8" width="3.1" height="13.5" fill="#000"/><rect x="861.9" y="470.1" width="2.6" height="22.9" fill="#fff" stroke="#1a1a1a" stroke-width="0.7"/><rect x="866" y="450.9" width="2.6" height="18.7" fill="#fff" stroke="#1a1a1a" stroke-width="0.7"/><rect x="870.2" y="447" width="2.6" height="3.6" fill="#fff" stroke="#1a1a1a" stroke-width="0.7"/><rect x="874.1" y="446.6" width="3.1" height="8.4" fill="#000"/><rect x="878.5" y="437.8" width="2.6" height="16.9" fill="#fff" stroke="#1a1a1a" stroke-width="0.7"/><rect x="882.6" y="421" width="2.6" height="16.1" fill="#fff" stroke="#1a1a1a" stroke-width="0.7"/><rect x="886.5" y="420.2" width="3.1" height="17.6" fill="#000"/><rect x="890.9" y="423" width="2.6" height="14.5" fill="#fff" stroke="#1a1a1a" stroke-width="0.7"/><rect x="894.8" y="423" width="3.1" height="11.9" fill="#000"/><rect x="898.9" y="434.6" width="3.1" height="18.1" fill="#000"/><rect x="903" y="453.4" width="3.1" height="4.5" fill="#000"/><rect x="907.2" y="457.9" width="3.1" height="4.7" fill="#000"/><rect x="911.3" y="462.3" width="3.1" height="13.2" fill="#000"/><rect x="915.4" y="475.3" width="3.1" height="7.6" fill="#000"/><rect x="919.8" y="481.8" width="2.6" height="1.5" fill="#fff" stroke="#1a1a1a" stroke-width="0.7"/><rect x="923.7" y="481.8" width="3.1" height="24.1" fill="#000"/><rect x="928.1" y="470.6" width="2.6" height="34.7" fill="#fff" stroke="#1a1a1a" stroke-width="0.7"/><rect x="932" y="470.8" width="3.1" height="28.9" fill="#000"/><rect x="936.1" y="499.7" width="3.1" height="13.2" fill="#000"/><rect x="940.5" y="504.7" width="2.6" height="7.9" fill="#fff" stroke="#1a1a1a" stroke-width="0.7"/><rect x="944.6" y="502.2" width="2.6" height="1.7" fill="#fff" stroke="#1a1a1a" stroke-width="0.7"/><rect x="948.8" y="481.4" width="2.6" height="20.4" fill="#fff" stroke="#1a1a1a" stroke-width="0.7"/><rect x="952.9" y="471.6" width="2.6" height="9.1" fill="#fff" stroke="#1a1a1a" stroke-width="0.7"/><rect x="956.8" y="471.2" width="3.1" height="16.8" fill="#000"/><rect x="960.9" y="487.3" width="3.1" height="1.4" fill="#000"/><rect x="965.3" y="437.7" width="2.6" height="50.6" fill="#fff" stroke="#1a1a1a" stroke-width="0.7"/><rect x="969.5" y="391.2" width="2.6" height="45.6" fill="#fff" stroke="#1a1a1a" stroke-width="0.7"/><rect x="973.6" y="351.5" width="2.6" height="39" fill="#fff" stroke="#1a1a1a" stroke-width="0.7"/><rect x="977.5" y="350.9" width="3.1" height="28.2" fill="#000"/><rect x="981.6" y="378.9" width="3.1" height="15" fill="#000"/><rect x="985.8" y="393.9" width="3.1" height="24.8" fill="#000"/><rect x="989.9" y="418.8" width="3.1" height="37.9" fill="#000"/><rect x="994" y="456.4" width="3.1" height="31.2" fill="#000"/><rect x="998.2" y="487.5" width="3.1" height="9.1" fill="#000"/><rect x="1002.6" y="462" width="2.6" height="34.3" fill="#fff" stroke="#1a1a1a" stroke-width="0.7"/><rect x="1006.5" y="461.4" width="3.1" height="25" fill="#000"/><rect x="1010.8" y="485.1" width="2.6" height="0.5" fill="#fff" stroke="#1a1a1a" stroke-width="0.7"/><rect x="1014.7" y="485.2" width="3.1" height="6.8" fill="#000"/><rect x="1018.9" y="492" width="3.1" height="20.9" fill="#000"/><rect x="1023" y="512.9" width="3.1" height="4.6" fill="#000"/><rect x="1027.4" y="510.5" width="2.6" height="6.7" fill="#fff" stroke="#1a1a1a" stroke-width="0.7"/><rect x="1031.3" y="510.1" width="3.1" height="3.7" fill="#000"/><rect x="1035.4" y="513.8" width="3.1" height="12.9" fill="#000"/><rect x="1039.8" y="516.2" width="2.6" height="10.1" fill="#fff" stroke="#1a1a1a" stroke-width="0.7"/><rect x="1043.7" y="516.2" width="3.1" height="17.9" fill="#000"/><rect x="1048.1" y="531.4" width="2.6" height="2.6" fill="#fff" stroke="#1a1a1a" stroke-width="0.7"/><rect x="1052" y="531.4" width="3.1" height="9.8" fill="#000"/><rect x="1056.3" y="540.6" width="2.6" height="0.3" fill="#fff" stroke="#1a1a1a" stroke-width="0.7"/><rect x="1060.5" y="539.4" width="2.6" height="0.7" fill="#fff" stroke="#1a1a1a" stroke-width="0.7"/><rect x="1064.6" y="527.6" width="2.6" height="12.2" fill="#fff" stroke="#1a1a1a" stroke-width="0.7"/><rect x="1068.5" y="527.7" width="3.1" height="1.2" fill="#000"/><rect x="1072.9" y="523.6" width="2.6" height="4.6" fill="#fff" stroke="#1a1a1a" stroke-width="0.7"/><rect x="1076.8" y="523.2" width="3.1" height="7.2" fill="#000"/><rect x="1080.9" y="530.1" width="3.1" height="1.6" fill="#000"/><rect x="1085.3" y="518.8" width="2.6" height="12.2" fill="#fff" stroke="#1a1a1a" stroke-width="0.7"/><rect x="1089.4" y="508.8" width="2.6" height="9.3" fill="#fff" stroke="#1a1a1a" stroke-width="0.7"/><rect x="1093.3" y="508.4" width="3.1" height="18.4" fill="#000"/><rect x="1097.7" y="524.6" width="2.6" height="3.5" fill="#fff" stroke="#1a1a1a" stroke-width="0.7"/><rect x="1101.6" y="525.2" width="3.1" height="7.4" fill="#000"/><rect x="1105.7" y="531.9" width="3.1" height="1.3" fill="#000"/><rect x="1109.9" y="532.6" width="3.1" height="1.8" fill="#000"/><rect x="1114" y="535" width="3.1" height="5.3" fill="#000"/><rect x="1118.4" y="539.5" width="2.6" height="0.3" fill="#fff" stroke="#1a1a1a" stroke-width="0.7"/><rect x="1122.3" y="539.3" width="3.1" height="7.4" fill="#000"/><rect x="1126.4" y="546.1" width="3.1" height="20" fill="#000"/><rect x="1130.8" y="563.2" width="2.6" height="2.7" fill="#fff" stroke="#1a1a1a" stroke-width="0.7"/><rect x="1135" y="561.8" width="2.6" height="2" fill="#fff" stroke="#1a1a1a" stroke-width="0.7"/><rect x="1138.8" y="561.2" width="3.1" height="17.6" fill="#000"/><rect x="1143" y="578.7" width="3.1" height="24.9" fill="#000"/><rect x="1147.4" y="588" width="2.6" height="16.2" fill="#fff" stroke="#1a1a1a" stroke-width="0.7"/><rect x="1151.2" y="588" width="3.1" height="9.5" fill="#000"/><rect x="1155.6" y="596.2" width="2.6" height="0.9" fill="#fff" stroke="#1a1a1a" stroke-width="0.7"/><rect x="1159.8" y="594.1" width="2.6" height="2.4" fill="#fff" stroke="#1a1a1a" stroke-width="0.7"/><rect x="1163.7" y="593.4" width="3.1" height="14.5" fill="#000"/><rect x="1168" y="598.6" width="2.6" height="9.2" fill="#fff" stroke="#1a1a1a" stroke-width="0.7"/><rect x="1172.2" y="598.5" width="2.6" height="0.5" fill="#fff" stroke="#1a1a1a" stroke-width="0.7"/><rect x="1176.3" y="587.4" width="2.6" height="10.6" fill="#fff" stroke="#1a1a1a" stroke-width="0.7"/><rect x="1180.5" y="567.8" width="2.6" height="18.5" fill="#fff" stroke="#1a1a1a" stroke-width="0.7"/><rect x="1184.3" y="567.6" width="3.1" height="24.3" fill="#000"/><rect x="1188.7" y="558.8" width="2.6" height="31.9" fill="#fff" stroke="#1a1a1a" stroke-width="0.7"/><rect x="1192.9" y="554.5" width="2.6" height="3.9" fill="#fff" stroke="#1a1a1a" stroke-width="0.7"/><rect x="1197" y="538.1" width="2.6" height="15.8" fill="#fff" stroke="#1a1a1a" stroke-width="0.7"/><rect x="1200.9" y="537.1" width="3.1" height="5.7" fill="#000"/><rect x="1205" y="542.4" width="3.1" height="8.2" fill="#000"/><rect x="1209.2" y="550.4" width="3.1" height="5.1" fill="#000"/><rect x="1213.6" y="547.2" width="2.6" height="7.7" fill="#fff" stroke="#1a1a1a" stroke-width="0.7"/><rect x="1217.4" y="546.9" width="3.1" height="6.9" fill="#000"/><rect x="1221.6" y="553.4" width="3.1" height="10.5" fill="#000"/><rect x="1226" y="560" width="2.6" height="4.2" fill="#fff" stroke="#1a1a1a" stroke-width="0.7"/><rect x="1230.1" y="558.4" width="2.6" height="0.5" fill="#fff" stroke="#1a1a1a" stroke-width="0.7"/><rect x="1234.2" y="557.1" width="2.6" height="0.5" fill="#fff" stroke="#1a1a1a" stroke-width="0.7"/><rect x="1238.1" y="557.4" width="3.1" height="6.1" fill="#000"/><rect x="1242.5" y="558.8" width="2.6" height="4.4" fill="#fff" stroke="#1a1a1a" stroke-width="0.7"/><rect x="1246.4" y="558.4" width="3.1" height="3.7" fill="#000"/><rect x="1250.8" y="543.1" width="2.6" height="18.9" fill="#fff" stroke="#1a1a1a" stroke-width="0.7"/><rect x="1254.7" y="542.9" width="3.1" height="2.8" fill="#000"/><rect x="1259.1" y="545.5" width="2.6" height="0.3" fill="#fff" stroke="#1a1a1a" stroke-width="0.7"/><rect x="1263.2" y="525.9" width="2.6" height="19.9" fill="#fff" stroke="#1a1a1a" stroke-width="0.7"/><rect x="1267.3" y="515" width="2.6" height="10.4" fill="#fff" stroke="#1a1a1a" stroke-width="0.7"/><rect x="1271.2" y="514.6" width="3.1" height="2.9" fill="#000"/><rect x="1275.4" y="517.5" width="3.1" height="11.6" fill="#000"/><rect x="1279.5" y="528.9" width="3.1" height="14" fill="#000"/><rect x="1283.6" y="542.7" width="3.1" height="1.2" fill="#000"/><rect x="1288" y="543.2" width="2.6" height="0.3" fill="#fff" stroke="#1a1a1a" stroke-width="0.7"/><rect x="1291.9" y="543.3" width="3.1" height="5.7" fill="#000"/><rect x="1296.3" y="543.1" width="2.6" height="6" fill="#fff" stroke="#1a1a1a" stroke-width="0.7"/><rect x="1300.4" y="534.6" width="2.6" height="7.9" fill="#fff" stroke="#1a1a1a" stroke-width="0.7"/><rect x="1304.6" y="529.2" width="2.6" height="4.7" fill="#fff" stroke="#1a1a1a" stroke-width="0.7"/><rect x="1308.7" y="524.9" width="2.6" height="3.9" fill="#fff" stroke="#1a1a1a" stroke-width="0.7"/><rect x="1312.6" y="524.8" width="3.1" height="9" fill="#000"/><rect x="1317" y="511.4" width="2.6" height="22.1" fill="#fff" stroke="#1a1a1a" stroke-width="0.7"/><rect x="1321.1" y="510.1" width="2.6" height="0.9" fill="#fff" stroke="#1a1a1a" stroke-width="0.7"/><rect x="1325" y="509.7" width="3.1" height="15.1" fill="#000"/><rect x="1329.4" y="500.9" width="2.6" height="23.6" fill="#fff" stroke="#1a1a1a" stroke-width="0.7"/><rect x="1333.5" y="488.8" width="2.6" height="11.3" fill="#fff" stroke="#1a1a1a" stroke-width="0.7"/><rect x="1337.4" y="488.8" width="3.1" height="19.1" fill="#000"/><rect x="1341.6" y="507.8" width="3.1" height="10" fill="#000"/><rect x="1345.9" y="513.1" width="2.6" height="4.4" fill="#fff" stroke="#1a1a1a" stroke-width="0.7"/><rect x="1350.1" y="506.8" width="2.6" height="5.9" fill="#fff" stroke="#1a1a1a" stroke-width="0.7"/><rect x="1354" y="506.4" width="3.1" height="11.4" fill="#000"/><rect x="1358.1" y="518" width="3.1" height="7.3" fill="#000"/><rect x="1362.5" y="521.1" width="2.6" height="3.9" fill="#fff" stroke="#1a1a1a" stroke-width="0.7"/><rect x="1366.4" y="520.7" width="3.1" height="7.9" fill="#000"/><rect x="1370.8" y="527.8" width="2.6" height="0.5" fill="#fff" stroke="#1a1a1a" stroke-width="0.7"/><rect x="1374.6" y="527.2" width="3.1" height="9.9" fill="#000"/><rect x="1379" y="515.6" width="2.6" height="21.4" fill="#fff" stroke="#1a1a1a" stroke-width="0.7"/><rect x="1382.9" y="515.2" width="3.1" height="5.5" fill="#000"/><rect x="1387.3" y="498.4" width="2.6" height="21.7" fill="#fff" stroke="#1a1a1a" stroke-width="0.7"/><rect x="1391.4" y="492.9" width="2.6" height="5" fill="#fff" stroke="#1a1a1a" stroke-width="0.7"/><rect x="1395.3" y="492.8" width="3.1" height="2.1" fill="#000"/><rect x="1399.5" y="494.6" width="3.1" height="20.4" fill="#000"/><rect x="1403.6" y="514.6" width="3.1" height="3.3" fill="#000"/><rect x="1407.7" y="517.9" width="3.1" height="11.1" fill="#000"/><rect x="1412.1" y="500.2" width="2.6" height="28.8" fill="#fff" stroke="#1a1a1a" stroke-width="0.7"/><rect x="1416.3" y="481.8" width="2.6" height="17.7" fill="#fff" stroke="#1a1a1a" stroke-width="0.7"/><rect x="1420.4" y="476.5" width="2.6" height="5" fill="#fff" stroke="#1a1a1a" stroke-width="0.7"/><rect x="1424.3" y="476.1" width="3.1" height="2" fill="#000"/></g>
<!-- trend arrow -->
<path d="M1136 633.1L1446 532.5M1437.9 528.4L1446.1 532.5L1441.8 540.4" stroke="#111" stroke-width="1.45" fill="none" stroke-linecap="round" stroke-linejoin="round"/>
</g>
<!-- axes -->
<path d="M1549.6 14.5V711.5" stroke="#666" stroke-width="1.1"/>
<path d="M6.5 694.3H1594" stroke="#5c5c5c" stroke-width="0.8"/>
<text class="ax" x="1556" y="680.9" textLength="32.1" lengthAdjust="spacingAndGlyphs">0.0001000</text>
<text class="ax" x="1556" y="651.5" textLength="32.1" lengthAdjust="spacingAndGlyphs">0.0001500</text>
<text class="ax" x="1556" y="622.2" textLength="32.1" lengthAdjust="spacingAndGlyphs">0.0002000</text>
<text class="ax" x="1556" y="592.8" textLength="32.1" lengthAdjust="spacingAndGlyphs">0.0002500</text>
<text class="ax" x="1556" y="563.5" textLength="32.1" lengthAdjust="spacingAndGlyphs">0.0003000</text>
<text class="ax" x="1556" y="534.1" textLength="32.1" lengthAdjust="spacingAndGlyphs">0.0003500</text>
<text class="ax" x="1556" y="504.7" textLength="32.1" lengthAdjust="spacingAndGlyphs">0.0004000</text>
<text class="ax" x="1556" y="475.4" textLength="32.1" lengthAdjust="spacingAndGlyphs">0.0004500</text>
<text class="ax" x="1556" y="446" textLength="32.1" lengthAdjust="spacingAndGlyphs">0.0005000</text>
<text class="ax" x="1556" y="416.7" textLength="32.1" lengthAdjust="spacingAndGlyphs">0.0005500</text>
<text class="ax" x="1556" y="387.3" textLength="32.1" lengthAdjust="spacingAndGlyphs">0.0006000</text>
<text class="ax" x="1556" y="357.9" textLength="32.1" lengthAdjust="spacingAndGlyphs">0.0006500</text>
<text class="ax" x="1556" y="328.6" textLength="32.1" lengthAdjust="spacingAndGlyphs">0.0007000</text>
<text class="ax" x="1556" y="299.2" textLength="32.1" lengthAdjust="spacingAndGlyphs">0.0007500</text>
<text class="ax" x="1556" y="269.9" textLength="32.1" lengthAdjust="spacingAndGlyphs">0.0008000</text>
<text class="ax" x="1556" y="240.5" textLength="32.1" lengthAdjust="spacingAndGlyphs">0.0008500</text>
<text class="ax" x="1556" y="211.1" textLength="32.1" lengthAdjust="spacingAndGlyphs">0.0009000</text>
<text class="ax" x="1556" y="181.8" textLength="32.1" lengthAdjust="spacingAndGlyphs">0.0009500</text>
<text class="ax" x="1556" y="152.4" textLength="32.1" lengthAdjust="spacingAndGlyphs">0.0010000</text>
<text class="ax" x="1556" y="123.1" textLength="32.1" lengthAdjust="spacingAndGlyphs">0.0010500</text>
<text class="ax" x="1556" y="93.7" textLength="32.1" lengthAdjust="spacingAndGlyphs">0.0011000</text>
<text class="ax" x="1556" y="64.3" textLength="32.1" lengthAdjust="spacingAndGlyphs">0.0011500</text>
<text class="ax" x="1556" y="35" textLength="32.1" lengthAdjust="spacingAndGlyphs" style="fill:#a4a4a4">0.0012000</text>
<rect x="1551" y="15" width="42" height="15" fill="#fff"/>
<rect x="1551" y="30" width="42" height="1.3" fill="#fff" opacity="0.6"/>
<text class="ax" x="1556" y="25" textLength="12" lengthAdjust="spacingAndGlyphs">BTC</text>
<path d="M1550 343.6H1591.2q1 0 1 1V353.1q0 1 -1 1H1550Z" fill="#000"/>
<text class="lb" x="1555.8" y="351.5" textLength="32.3" lengthAdjust="spacingAndGlyphs">0.0006609</text>
<path d="M1550 459.6H1591.2q1 0 1 1V468.8q0 1 -1 1H1550Z" fill="#000"/>
<text class="lb" x="1555.8" y="468" textLength="32.3" lengthAdjust="spacingAndGlyphs">0.0004630</text>
<rect x="1550" y="472" width="42.2" height="1" fill="#fff"/>
<path d="M1550 472.9H1591.2q1 0 1 1V490.1q0 1 -1 1H1550Z" fill="#000"/>
<text class="lb" x="1555.8" y="481" textLength="32.3" lengthAdjust="spacingAndGlyphs">0.0004411</text>
<text class="lb" style="font-weight:normal" x="1555.8" y="489.4" textLength="21" lengthAdjust="spacingAndGlyphs">2d 11h</text>
<path d="M1550 504.9H1591.2q1 0 1 1V514.4q0 1 -1 1H1550Z" fill="#000"/>
<text class="lb" x="1555.8" y="512.8" textLength="32.3" lengthAdjust="spacingAndGlyphs">0.0003865</text>
<path d="M1516 472.8H1548V482.9H1516q-1 0 -1 -1V473.8q0 -1 1 -1Z" fill="#000"/>
<text class="lb" x="1517.9" y="480.4" textLength="27.3" lengthAdjust="spacingAndGlyphs">LINKBTC</text>
<text class="mo" style="text-anchor:start" x="34" y="704.9" textLength="11.0" lengthAdjust="spacingAndGlyphs">Mar</text>
<text class="mo" style="text-anchor:start" x="120.6" y="704.9" textLength="12.0" lengthAdjust="spacingAndGlyphs">May</text>
<text class="mo" style="text-anchor:start" x="205.1" y="704.9" textLength="8.2" lengthAdjust="spacingAndGlyphs">Jul</text>
<text class="mo" style="text-anchor:start" x="290.3" y="704.9" textLength="11.4" lengthAdjust="spacingAndGlyphs">Sep</text>
<text class="mo" style="text-anchor:start" x="373.1" y="704.9" textLength="11.6" lengthAdjust="spacingAndGlyphs">Nov</text>
<text class="mo" style="font-weight:bold;text-anchor:start" x="453.6" y="704.9" textLength="15.7" lengthAdjust="spacingAndGlyphs">2021</text>
<text class="mo" style="text-anchor:start" x="538.1" y="704.9" textLength="11.0" lengthAdjust="spacingAndGlyphs">Mar</text>
<text class="mo" style="text-anchor:start" x="621" y="704.9" textLength="12.0" lengthAdjust="spacingAndGlyphs">May</text>
<text class="mo" style="text-anchor:start" x="709.3" y="704.9" textLength="8.2" lengthAdjust="spacingAndGlyphs">Jul</text>
<text class="mo" style="text-anchor:start" x="790.3" y="704.9" textLength="11.4" lengthAdjust="spacingAndGlyphs">Sep</text>
<text class="mo" style="text-anchor:start" x="877.3" y="704.9" textLength="11.6" lengthAdjust="spacingAndGlyphs">Nov</text>
<text class="mo" style="font-weight:bold;text-anchor:start" x="957.6" y="704.9" textLength="15.7" lengthAdjust="spacingAndGlyphs">2022</text>
<text class="mo" style="text-anchor:start" x="1042.8" y="704.9" textLength="11.0" lengthAdjust="spacingAndGlyphs">Mar</text>
<text class="mo" style="text-anchor:start" x="1125.1" y="704.9" textLength="12.0" lengthAdjust="spacingAndGlyphs">May</text>
<text class="mo" style="text-anchor:start" x="1214.1" y="704.9" textLength="8.2" lengthAdjust="spacingAndGlyphs">Jul</text>
<text class="mo" style="text-anchor:start" x="1295.2" y="704.9" textLength="11.4" lengthAdjust="spacingAndGlyphs">Sep</text>
<text class="mo" style="text-anchor:start" x="1381.8" y="704.9" textLength="11.6" lengthAdjust="spacingAndGlyphs">Nov</text>
<text class="mo" style="font-weight:bold;text-anchor:start" x="1462.5" y="704.9" textLength="15.7" lengthAdjust="spacingAndGlyphs">2023</text>
</svg>
<svg width="1600" height="733" viewBox="0 0 1600 733" style="pointer-events:none">
<g font-family="'Liberation Sans', sans-serif">
<text x="6.8" y="8.5" font-size="7.4" fill="#333" textLength="242.8" lengthAdjust="spacingAndGlyphs">AltcoinSherpa published on TradingView.com, Nov 30, 2022 13:28 UTC</text>
<text x="21.7" y="726.1" font-size="8.4" fill="#444" textLength="45.3" lengthAdjust="spacingAndGlyphs">TradingView</text>
</g>
<circle cx="30.1" cy="365.3" r="17.8" fill="#6f6f6f"/>
<path d="M37.8 365.3H23.8M30.3 359.5L23.6 365.3L30.3 371.1" stroke="#fff" stroke-width="1.5" fill="none" stroke-linecap="butt" stroke-linejoin="miter"/>
<g transform="translate(6.6,719.1) scale(0.328)" fill="#111"><path d="M14 22H7V11H0V4h14v18zM28 22h-8l7.5-18h8L28 22z"/><circle cx="20" cy="8" r="4"/></g>
</svg>
</body></html>
